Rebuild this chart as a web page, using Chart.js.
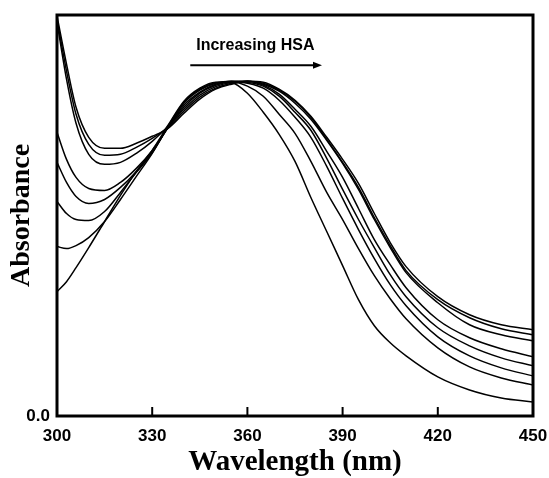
<!DOCTYPE html>
<html>
<head>
<meta charset="utf-8">
<script src="https://cdn.jsdelivr.net/npm/chart.js@4.4.1/dist/chart.umd.min.js"></script>
<style>
    html, body { margin: 0; padding: 0; background: #fff; }
</style>
</head>
<body>
<canvas id="myChart" width="549" height="478"></canvas>
<script>
// wavelengths, nm
const wavelengths = [300, 303, 306, 310, 315, 320, 325, 330, 335, 340, 345, 350, 355, 360, 365, 370, 375, 380, 385, 390, 395, 400, 405, 410, 420, 430, 440, 450];

// absorbance spectra, from no HSA (hsa0) to the highest HSA (hsa7)
const hsa0 = [0.248, 0.268, 0.296, 0.336, 0.388, 0.440, 0.488, 0.530, 0.580, 0.628, 0.654, 0.666, 0.665, 0.644, 0.606, 0.562, 0.508, 0.436, 0.368, 0.300, 0.232, 0.180, 0.146, 0.120, 0.078, 0.052, 0.036, 0.028];
const hsa1 = [0.338, 0.334, 0.340, 0.356, 0.388, 0.432, 0.478, 0.524, 0.578, 0.626, 0.652, 0.665, 0.667, 0.658, 0.638, 0.602, 0.564, 0.508, 0.446, 0.392, 0.334, 0.280, 0.234, 0.194, 0.136, 0.098, 0.076, 0.062];
const hsa2 = [0.428, 0.404, 0.392, 0.390, 0.408, 0.446, 0.486, 0.525, 0.577, 0.624, 0.650, 0.664, 0.668, 0.664, 0.654, 0.630, 0.596, 0.556, 0.498, 0.434, 0.372, 0.314, 0.262, 0.220, 0.158, 0.120, 0.096, 0.080];
const hsa3 = [0.506, 0.466, 0.438, 0.424, 0.432, 0.456, 0.488, 0.527, 0.576, 0.620, 0.646, 0.662, 0.668, 0.666, 0.658, 0.638, 0.606, 0.570, 0.514, 0.452, 0.392, 0.336, 0.282, 0.238, 0.176, 0.140, 0.116, 0.100];
const hsa4 = [0.566, 0.512, 0.476, 0.454, 0.450, 0.466, 0.494, 0.530, 0.575, 0.616, 0.644, 0.660, 0.667, 0.668, 0.660, 0.642, 0.612, 0.578, 0.528, 0.476, 0.414, 0.352, 0.302, 0.256, 0.192, 0.156, 0.134, 0.118];
const hsa5 = [0.786, 0.672, 0.584, 0.522, 0.502, 0.506, 0.524, 0.548, 0.578, 0.612, 0.640, 0.657, 0.666, 0.668, 0.662, 0.648, 0.624, 0.592, 0.550, 0.504, 0.452, 0.392, 0.336, 0.286, 0.226, 0.182, 0.162, 0.150];
const hsa6 = [0.792, 0.688, 0.602, 0.542, 0.520, 0.522, 0.536, 0.554, 0.576, 0.608, 0.636, 0.654, 0.664, 0.668, 0.664, 0.650, 0.628, 0.596, 0.552, 0.506, 0.456, 0.396, 0.340, 0.290, 0.232, 0.196, 0.174, 0.162];
const hsa7 = [0.798, 0.702, 0.616, 0.556, 0.534, 0.534, 0.544, 0.558, 0.574, 0.604, 0.632, 0.652, 0.662, 0.668, 0.666, 0.652, 0.630, 0.598, 0.556, 0.512, 0.464, 0.404, 0.346, 0.298, 0.238, 0.202, 0.182, 0.172];

const xTicks = [300, 330, 360, 390, 420, 450];
const yTicks = [0];

const series = [hsa0, hsa1, hsa2, hsa3, hsa4, hsa5, hsa6, hsa7];

// annotation "Increasing HSA" in data units
const noteText = 'Increasing HSA';
const noteX = 362.5, noteY = 0.738;
const arrowFrom = 342, arrowTo = 383.5, arrowY = 0.70;

const sansBold = {family: 'Arial, "Liberation Sans", sans-serif', weight: 'bold'};
const serifBold = {family: '"Times New Roman", "Liberation Serif", serif', weight: 'bold'};

// рамка, внутренние засечки и подпись со стрелкой
const framePlugin = {
    id: 'frame',
    afterDraw(chart) {
        const {ctx, chartArea: a, scales: {x, y}} = chart;
        ctx.save();
        ctx.strokeStyle = '#000';
        ctx.lineWidth = 3;
        ctx.strokeRect(a.left, a.top, a.right - a.left, a.bottom - a.top);

        ctx.lineWidth = 2;
        xTicks.slice(1, -1).forEach(v => {
            const px = x.getPixelForValue(v);
            ctx.beginPath();
            ctx.moveTo(px, a.bottom);
            ctx.lineTo(px, a.bottom - 9);
            ctx.stroke();
        });

        ctx.fillStyle = '#000';
        ctx.font = 'bold 16px Arial, "Liberation Sans", sans-serif';
        ctx.textAlign = 'center';
        ctx.textBaseline = 'middle';
        ctx.fillText(noteText, x.getPixelForValue(noteX), y.getPixelForValue(noteY));

        const x1 = x.getPixelForValue(arrowFrom);
        const x2 = x.getPixelForValue(arrowTo);
        const py = y.getPixelForValue(arrowY);
        ctx.lineWidth = 2;
        ctx.beginPath();
        ctx.moveTo(x1, py);
        ctx.lineTo(x2 - 6, py);
        ctx.stroke();
        ctx.beginPath();
        ctx.moveTo(x2, py);
        ctx.lineTo(x2 - 9, py - 3.5);
        ctx.lineTo(x2 - 9, py + 3.5);
        ctx.closePath();
        ctx.fill();
        ctx.restore();
    }
};

const ctx = document.getElementById('myChart');

new Chart(ctx, {
    type: 'line',
    data: {
        labels: wavelengths,
        datasets: series.map((values, i) => ({
            label: 'HSA ' + i,
            data: values.map((v, j) => ({x: wavelengths[j], y: v})),
            borderColor: '#000',
            borderWidth: 1.5,
            pointRadius: 0,
            fill: false,
            cubicInterpolationMode: 'monotone'
        }))
    },
    options: {
        responsive: false,
        animation: false,
        layout: {padding: {top: 15, right: 16, left: 0, bottom: 0}},
        plugins: {
            legend: {display: false},
            tooltip: {enabled: false}
        },
        scales: {
            x: {
                type: 'linear',
                min: 300,
                max: 450,
                afterBuildTicks: s => { s.ticks = xTicks.map(v => ({value: v})); },
                afterFit: s => {
                    s.height = 62;
                    s.paddingLeft = 0;
                    s.paddingRight = 0;
                },
                grid: {display: false, drawTicks: false},
                border: {display: false},
                ticks: {
                    font: {...sansBold, size: 17},
                    color: '#000',
                    padding: 10,
                    maxRotation: 0
                },
                title: {
                    display: true,
                    text: 'Wavelength (nm)',
                    color: '#000',
                    font: {...serifBold, size: 29, lineHeight: 1},
                    padding: {top: 0, bottom: 1}
                }
            },
            y: {
                min: 0,
                max: 0.8,
                afterBuildTicks: s => { s.ticks = yTicks.map(v => ({value: v})); },
                afterFit: s => {
                    s.width = 57;
                    s.paddingTop = 0;
                    s.paddingBottom = 0;
                },
                grid: {display: false, drawTicks: false},
                border: {display: false},
                ticks: {
                    font: {...sansBold, size: 17},
                    color: '#000',
                    padding: 7,
                    callback: v => v.toFixed(1)
                },
                title: {
                    display: true,
                    text: 'Absorbance',
                    color: '#000',
                    font: {...serifBold, size: 28, lineHeight: 1.2},
                    padding: {top: 5, bottom: 0}
                }
            }
        }
    },
    plugins: [framePlugin]
});
</script>
</body>
</html>
